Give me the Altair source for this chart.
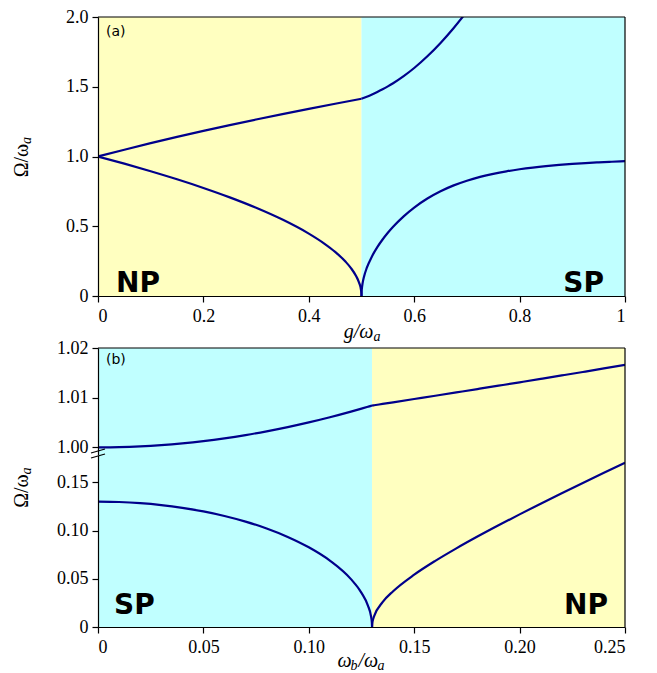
import altair as alt
import pandas as pd

# ---------------- panel (a): Omega/omega_a vs g/omega_a ----------------
a_np_low_g = [0, 0.05, 0.1, 0.15, 0.2, 0.25, 0.3, 0.35, 0.4, 0.43, 0.45, 0.47, 0.48, 0.49, 0.495, 0.499, 0.4998, 0.5]
a_np_low_y = [1.0, 0.94868, 0.89443, 0.83666, 0.77460, 0.70711, 0.63246, 0.54772, 0.44721, 0.37417, 0.31623,
              0.24495, 0.2, 0.14142, 0.1, 0.04472, 0.02, 0.0]
a_np_up_g = [0, 0.05, 0.1, 0.15, 0.2, 0.25, 0.3, 0.35, 0.4, 0.45, 0.5]
a_np_up_y = [1.0, 1.04881, 1.09545, 1.14018, 1.18322, 1.22474, 1.26491, 1.30384, 1.34164, 1.37840, 1.41421]
a_sp_low_g = [0.5, 0.5002, 0.501, 0.502, 0.505, 0.51, 0.52, 0.53, 0.54, 0.55, 0.56, 0.58, 0.6, 0.625, 0.65,
              0.675, 0.7, 0.725, 0.75, 0.775, 0.8, 0.825, 0.85, 0.875, 0.9, 0.925, 0.95, 0.975, 1.0]
a_sp_low_y = [0.0, 0.02828, 0.06328, 0.08953, 0.14177, 0.20092, 0.28518, 0.35023, 0.40513, 0.45330, 0.49644,
              0.57122, 0.63390, 0.69861, 0.75084, 0.79287, 0.82666, 0.85387, 0.87589, 0.89382, 0.90853,
              0.92069, 0.93081, 0.93931, 0.94649, 0.95261, 0.95784, 0.96234, 0.96624]
a_sp_up_g = [0.5, 0.501, 0.505, 0.51, 0.52, 0.53, 0.54, 0.55, 0.56, 0.58, 0.6, 0.625, 0.65, 0.675, 0.7]
a_sp_up_y = [1.41421, 1.41563, 1.42145, 1.42901, 1.44518, 1.46281, 1.48201, 1.50287, 1.52547, 1.57618,
             1.63455, 1.71853, 1.81448, 1.92168, 2.03917]
a_phase_x0 = [0.0, 0.5]
a_phase_x1 = [0.5, 1.0]
a_phase = ["NP", "SP"]
a_xticks = [0, 0.2, 0.4, 0.6, 0.8, 1.0]
a_yticks = [0, 0.5, 1.0, 1.5, 2.0]

# ---------------- panel (b): Omega/omega_a vs omega_b/omega_a ----------------
b_sp_w = [0, 0.01, 0.02, 0.03, 0.04, 0.05, 0.06, 0.07, 0.08, 0.09, 0.10, 0.11, 0.12, 0.125, 0.128,
          0.1295, 0.1299, 0.13]
b_sp_low = [0.13, 0.12961, 0.12843, 0.12643, 0.12359, 0.11985, 0.11512, 0.10927, 0.10214, 0.09343,
            0.08265, 0.06887, 0.04964, 0.03543, 0.02253, 0.01130, 0.00506, 0.0]
b_sp_up = [1.0, 1.000051, 1.000203, 1.000457, 1.000812, 1.001267, 1.001823, 1.002477, 1.003229, 1.004077,
           1.005022, 1.006060, 1.007192, 1.007792, 1.008163, 1.008351, 1.008402, 1.008415]
b_np_w = [0.13, 0.1302, 0.1305, 0.131, 0.135, 0.14, 0.15, 0.16, 0.17, 0.18, 0.19, 0.20, 0.21, 0.22,
          0.23, 0.24, 0.25]
b_np_low = [0.0, 0.00506, 0.007995, 0.01135, 0.02576, 0.03708, 0.05424, 0.06857, 0.08156, 0.09377,
            0.10546, 0.11679, 0.12785, 0.13871, 0.14939, 0.15994, 0.17038]
b_np_up = [1.008415, 1.008428, 1.008447, 1.008480, 1.008743, 1.009071, 1.009732, 1.010395, 1.011063,
           1.011735, 1.012412, 1.013094, 1.013782, 1.014476, 1.015176, 1.015883, 1.016598]
b_phase_x0 = [0.0, 0.13]
b_phase_x1 = [0.13, 0.25]
b_phase = ["SP", "NP"]
b_xticks = [0, 0.05, 0.10, 0.15, 0.20, 0.25]
b_yticks_up = [1.00, 1.01, 1.02]
b_yticks_low = [0, 0.05, 0.10, 0.15]

# ---------------- styling ----------------
LINE = "#00008b"
YELLOW = "#ffffc0"
CYAN = "#c0ffff"
SERIF = "Liberation Serif, 'Times New Roman', Times, serif"
SANS = "DejaVu Sans"
W = 527
HA = 279
HBU = 107
HBL = 172
one = pd.DataFrame({"k": [0]})

AXIS_STYLE = dict(
    grid=False, title=None, domainColor="black", domainWidth=1.2, tickColor="black", tickWidth=1.2,
    tickSize=6, labelFont=SERIF, labelFontSize=18, labelColor="black", zindex=1,
)


def curve_df(parts):
    rows = []
    for name, xs, ys in parts:
        for i, (xv, yv) in enumerate(zip(xs, ys)):
            rows.append({"x": xv, "y": yv, "branch": name, "i": i})
    return pd.DataFrame(rows)


def xenc(field, domain, ticks, fmt, show):
    if show:
        axis = alt.Axis(values=ticks, labelPadding=5, **AXIS_STYLE,
                        labelExpr=f"datum.value == 0 ? '0' : (datum.value == 1 ? '1' : format(datum.value, '{fmt}'))")
    else:
        axis = None
    return alt.X(field, type="quantitative", scale=alt.Scale(domain=domain, nice=False, zero=False), axis=axis)


def yenc(domain, ticks, fmt):
    return alt.Y("y:Q", scale=alt.Scale(domain=domain, nice=False, zero=False),
                 axis=alt.Axis(values=ticks, labelPadding=4, **AXIS_STYLE,
                               labelExpr=f"datum.value == 0 ? '0' : format(datum.value, '{fmt}')"))


def panel(phase_df, cdf, xdom, xticks, xfmt, showx, ydom, yticks, yfmt, h, top_border=True):
    bg = alt.Chart(phase_df).mark_rect().encode(
        x=xenc("x0", xdom, xticks, xfmt, showx),
        x2="x1",
        y=alt.value(0), y2=alt.value(h),
        color=alt.Color("phase:N", scale=alt.Scale(domain=["NP", "SP"], range=[YELLOW, CYAN]), legend=None),
    )
    lines = alt.Chart(cdf).mark_line(color=LINE, strokeWidth=2.2, interpolate="monotone", clip=True).encode(
        x=xenc("x", xdom, xticks, xfmt, showx),
        y=yenc(ydom, yticks, yfmt),
        detail="branch:N",
        order="i:Q",
    )
    layers = [bg, lines]
    right = alt.Chart(one).mark_rule(color="black", strokeWidth=1.2).encode(
        x=alt.value(W), y=alt.value(0), y2=alt.value(h))
    layers.append(right)
    if top_border:
        layers.append(alt.Chart(one).mark_rule(color="black", strokeWidth=1.2).encode(
            x=alt.value(0), x2=alt.value(W), y=alt.value(0)))
    return layers


def txt(text, x, y, size, font=SERIF, style="normal", weight="normal", align="left", angle=0, baseline="middle"):
    kw = dict(text=text, font=font, fontSize=size, fontStyle=style, fontWeight=weight, align=align,
              baseline=baseline, color="black")
    if angle:
        kw["angle"] = angle
    return alt.Chart(one).mark_text(**kw).encode(x=alt.value(x), y=alt.value(y))


def ytitle(yc):
    return [
        txt("Ω/ω", -76, yc + 4, 20, align="center", angle=270),
        txt("a", -71, yc - 16, 14, style="italic", align="center", angle=270),
    ]


# ---- panel (a)
a_curves = curve_df([("np_low", a_np_low_g, a_np_low_y), ("np_up", a_np_up_g, a_np_up_y),
                     ("sp_low", a_sp_low_g, a_sp_low_y), ("sp_up", a_sp_up_g, a_sp_up_y)])
a_phases = pd.DataFrame({"x0": a_phase_x0, "x1": a_phase_x1, "phase": a_phase})
a_layers = panel(a_phases, a_curves, [0, 1], a_xticks, ".1f", True, [0, 2], a_yticks, ".1f", HA)
cx = W / 2
a_layers += [
    txt("(a)", 8, 15, 14, font=SANS),
    txt("NP", 18, 275, 28, font=SANS, weight="bold", baseline="alphabetic"),
    txt("SP", 506, 275, 28, font=SANS, weight="bold", align="right", baseline="alphabetic"),
    txt("g/ω", cx - 3, HA + 36, 20, style="italic", align="center"),
    txt("a", cx + 12, HA + 41, 14, style="italic"),
] + ytitle(HA / 2)
chart_a = alt.layer(*a_layers).properties(width=W, height=HA)

# ---- panel (b)
b_up_curves = curve_df([("sp_up", b_sp_w, b_sp_up), ("np_up", b_np_w, b_np_up)])
b_low_curves = curve_df([("sp_low", b_sp_w, b_sp_low), ("np_low", b_np_w, b_np_low)])
b_phases = pd.DataFrame({"x0": b_phase_x0, "x1": b_phase_x1, "phase": b_phase})

bu_layers = panel(b_phases, b_up_curves, [0, 0.25], b_xticks, ".2f", False, [0.99846, 1.02], b_yticks_up,
                  ".2f", HBU)
bu_layers += [txt("(b)", 8, 12, 14, font=SANS)]
chart_bu = alt.layer(*bu_layers).properties(width=W, height=HBU)

bl_layers = panel(b_phases, b_low_curves, [0, 0.25], b_xticks, ".2f", True, [0, 0.17836], b_yticks_low,
                  ".2f", HBL, top_border=False)
brk = pd.DataFrame({"k": [0]})
bl_layers += [
    alt.Chart(brk).mark_rule(color="black", strokeWidth=1.2).encode(
        x=alt.value(-7), x2=alt.value(7), y=alt.value(3), y2=alt.value(-1)),
    alt.Chart(brk).mark_rule(color="black", strokeWidth=1.2).encode(
        x=alt.value(-7), x2=alt.value(7), y=alt.value(-2), y2=alt.value(-6)),
    txt("SP", 16, 159, 28, font=SANS, weight="bold", baseline="alphabetic"),
    txt("NP", 510, 159, 28, font=SANS, weight="bold", align="right", baseline="alphabetic"),
    txt("ω", cx - 24, HBL + 34, 20, style="italic"),
    txt("b", cx - 11, HBL + 39, 14, style="italic"),
    txt("/ω", cx - 3, HBL + 34, 20, style="italic"),
    txt("a", cx + 16, HBL + 39, 14, style="italic"),
] + ytitle(32)
chart_bl = alt.layer(*bl_layers).properties(width=W, height=HBL)

chart_b = alt.vconcat(chart_bu, chart_bl, spacing=0, bounds="flush")

chart = alt.vconcat(chart_a, chart_b, spacing=52, bounds="flush").properties(
    padding={"left": 12, "top": 8, "right": 10, "bottom": 2}
).configure_view(stroke=None)

chart.save("out.html", embed_options={"renderer": "svg", "actions": False})
